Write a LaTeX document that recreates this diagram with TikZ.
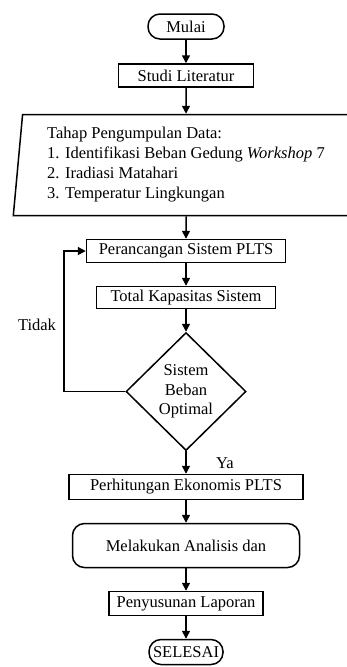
\documentclass[tikz,border=0pt]{standalone}
\usepackage{fontspec}
\setmainfont{Liberation Serif}
\usetikzlibrary{positioning,chains,shapes.geometric,arrows.meta,calc}
\tikzset{
		>={Triangle[length=8pt,width=8pt]},
			line/.style={->, line width=1.5pt},
			base/.style={draw=black, line width=1.5pt, inner sep=0pt,
				font=\fontsize{16.5}{20}\selectfont, on chain, join},
			term/.style={base, rounded corners=12pt,
				minimum width=76pt, minimum height=25pt},
			proc/.style={base, rectangle, minimum height=23pt},
			data/.style={base, trapezium, trapezium left angle=84,
				trapezium right angle=96, trapezium stretches=true,
				minimum width=346pt, minimum height=101pt, align=left},
			decide/.style={base, diamond, minimum width=120pt,
				minimum height=118pt, align=center,
				font=\fontsize{16.5}{19.5}\selectfont},
			every join/.style={line},
			annot/.style={inner sep=0pt, font=\fontsize{16.5}{20}\selectfont},
		}

\begin{document}
\begin{tikzpicture}
				[x=1pt, y=1pt, node distance=22.5pt,
				start chain=going below,]
				\useasboundingbox (0,0) rectangle (347,-667);
				\node[term] (start) at (186,-26.5) {Mulai};
				\node[proc, minimum width=135pt, yshift=-1pt] (study) {Studi Literatur};
				\node[data, yshift=-3.5pt] (collect) {Tahap Pengumpulan Data:\\
					1. Identifikasi Beban Gedung \textit{Workshop} 7\\
					2. Iradiasi Matahari\\
					3. Temperatur Lingkungan};
				\node[proc, minimum width=199pt] (plan) {Perancangan Sistem PLTS};
				\node[proc, minimum width=179pt, minimum height=22pt] (total) {Total Kapasitas Sistem};
				\node[decide] (dec) {Sistem\\Beban\\Optimal};
				\node[proc, minimum width=234pt, minimum height=25pt] (econ) {Perhitungan Ekonomis PLTS};
				\node[proc, rounded corners=12pt, minimum width=227pt,
					minimum height=44pt] (anal) {Melakukan Analisis dan};
				\node[proc, minimum width=154pt, minimum height=24pt] (report) {Penyusunan Laporan};
				\node[term, minimum width=74pt] (stop) {SELESAI};

				% loop back
				\coordinate (back) at ([xshift=-22pt]plan.west);
				\draw[line] (dec.west) -| (back) -- (plan.west);

				\node[annot] (no) at (37,-325) {Tidak};
				\node[annot] (yes) at (225,-463) {Ya};

			\end{tikzpicture}
\end{document}
